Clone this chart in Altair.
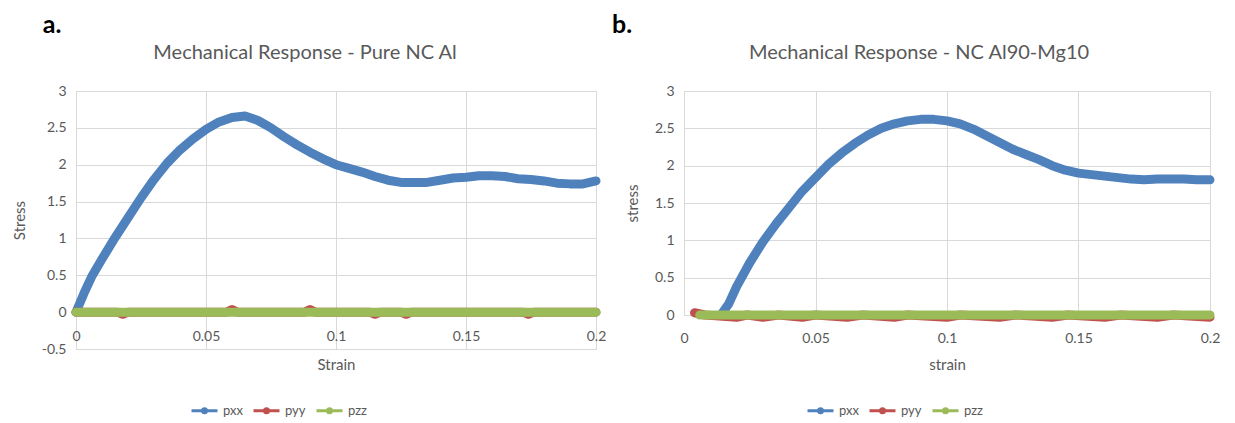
import altair as alt
import pandas as pd

FONT = "Lato"
GRAY = "#595959"
GRID = "#D9D9D9"

series_names = ["pxx", "pyy", "pzz"]
series_colors = ["#4F81BD", "#C0504D", "#9BBB59"]

# ---------- Panel a: Pure NC Al ----------
a_title = "Mechanical Response - Pure NC Al"
a_strain = [0.0, 0.003, 0.006, 0.01, 0.015, 0.02, 0.025, 0.03, 0.035, 0.04,
            0.045, 0.05, 0.055, 0.06, 0.065, 0.07, 0.075, 0.08, 0.085, 0.09,
            0.095, 0.1, 0.105, 0.11, 0.115, 0.12, 0.125, 0.13, 0.135, 0.14,
            0.145, 0.15, 0.155, 0.16, 0.165, 0.17, 0.175, 0.18, 0.185, 0.19,
            0.195, 0.2]
a_pxx = [0.0, 0.25, 0.48, 0.72, 1.01, 1.28, 1.55, 1.8, 2.02, 2.2,
         2.35, 2.48, 2.58, 2.64, 2.66, 2.6, 2.5, 2.38, 2.27, 2.17,
         2.08, 2.0, 1.95, 1.9, 1.84, 1.79, 1.76, 1.76, 1.76, 1.79,
         1.82, 1.83, 1.85, 1.85, 1.84, 1.81, 1.8, 1.78, 1.75, 1.74,
         1.74, 1.78]
a_pyy_strain = [0.0, 0.016, 0.018, 0.02, 0.058, 0.06, 0.062, 0.088, 0.09, 0.092,
                0.113, 0.115, 0.117, 0.125, 0.127, 0.129, 0.172, 0.174, 0.176, 0.2]
a_pyy = [0.0, 0.0, -0.03, 0.0, 0.0, 0.035, 0.0, 0.0, 0.035, 0.0,
         0.0, -0.03, 0.0, 0.0, -0.03, 0.0, 0.0, -0.03, 0.0, 0.0]
a_pzz_strain = [0.0, 0.05, 0.1, 0.15, 0.2]
a_pzz = [0.0, 0.0, 0.0, 0.0, 0.0]

# ---------- Panel b: NC Al90-Mg10 ----------
b_title = "Mechanical Response - NC Al90-Mg10"
b_strain = [0.014, 0.017, 0.02, 0.025, 0.03, 0.035, 0.04, 0.045, 0.05, 0.055,
            0.06, 0.065, 0.07, 0.075, 0.08, 0.085, 0.09, 0.095, 0.1, 0.105,
            0.11, 0.115, 0.12, 0.125, 0.13, 0.135, 0.14, 0.145, 0.15, 0.155,
            0.16, 0.165, 0.17, 0.175, 0.18, 0.185, 0.19, 0.195, 0.2]
b_pxx = [0.0, 0.15, 0.38, 0.7, 0.98, 1.22, 1.44, 1.66, 1.84, 2.02,
         2.17, 2.3, 2.41, 2.5, 2.56, 2.6, 2.62, 2.62, 2.6, 2.56,
         2.49, 2.4, 2.31, 2.22, 2.15, 2.08, 2.0, 1.94, 1.9, 1.88,
         1.86, 1.84, 1.82, 1.81, 1.82, 1.82, 1.82, 1.81, 1.81]
b_pyy_strain = [0.004, 0.008, 0.02, 0.024, 0.03, 0.036, 0.045, 0.05, 0.062, 0.068,
                0.08, 0.085, 0.1, 0.105, 0.12, 0.126, 0.14, 0.146, 0.16, 0.166,
                0.18, 0.186, 0.2]
b_pyy = [0.03, 0.0, -0.03, 0.0, -0.03, 0.0, -0.03, 0.0, -0.03, 0.0,
         -0.03, 0.0, -0.03, 0.0, -0.03, 0.0, -0.03, 0.0, -0.03, 0.0,
         -0.03, 0.0, -0.03]
b_pzz_strain = [0.006, 0.05, 0.1, 0.15, 0.2]
b_pzz = [0.0, 0.0, 0.0, 0.0, 0.0]

x_ticks = [0, 0.05, 0.1, 0.15, 0.2]
a_y_ticks = [-0.5, 0, 0.5, 1, 1.5, 2, 2.5, 3]
b_y_ticks = [0, 0.5, 1, 1.5, 2, 2.5, 3]

LEGEND_PATH = "M-2.6,0L2.6,0M-0.4,0A0.4,0.4,0,1,1,0.4,0A0.4,0.4,0,1,1,-0.4,0"


def frame(strain, values, name):
    return pd.DataFrame({"strain": strain, "stress": values, "series": name})


def panel(letter, title, data, y_domain, y_ticks, x_title, y_title,
          width, height, x_offset, x_label_pad, x_title_pad, title_x, letter_dx, legend_x):
    y_lab = "datum.value < 0 ? '-' + format(-datum.value, '~g') : format(datum.value, '~g')"
    x_axis = alt.Axis(values=x_ticks, format="~g", grid=True, gridColor=GRID, domain=False,
                      ticks=False, labelFont=FONT, labelFontSize=14, labelColor=GRAY,
                      labelPadding=x_label_pad, title=x_title, titleFont=FONT, titleFontSize=15,
                      titleColor=GRAY, titleFontWeight="normal", titlePadding=x_title_pad,
                      offset=x_offset, labelFlush=False)
    y_axis = alt.Axis(values=y_ticks, labelExpr=y_lab, grid=True, gridColor=GRID, domain=False,
                      ticks=False, labelFont=FONT, labelFontSize=14, labelColor=GRAY,
                      labelPadding=10, title=y_title, titleFont=FONT, titleFontSize=15,
                      titleColor=GRAY, titleFontWeight="normal", titlePadding=14)
    legend = alt.Legend(orient="none", legendX=legend_x, legendY=313, direction="horizontal",
                        title=None, symbolType=LEGEND_PATH, symbolSize=100, symbolStrokeWidth=3,
                        labelFont=FONT, labelFontSize=13, labelColor=GRAY, labelOffset=12,
                        columnPadding=4)
    color = alt.Color("series:N", scale=alt.Scale(domain=series_names, range=series_colors),
                      legend=legend)
    base = alt.Chart(data)
    layers = []
    for s in series_names:
        layers.append(
            base.transform_filter(alt.datum.series == s)
            .mark_line(strokeWidth=9, strokeCap="round", strokeJoin="round")
            .encode(
                x=alt.X("strain:Q", scale=alt.Scale(domain=[0, 0.2], nice=False), axis=x_axis),
                y=alt.Y("stress:Q", scale=alt.Scale(domain=y_domain, nice=False), axis=y_axis),
                color=color,
                order=alt.Order("strain:Q"),
            )
        )
    texts = pd.DataFrame({"t": [letter, title]})
    lab = alt.Chart(texts).transform_filter(alt.datum.t == letter).mark_text(
        font=FONT, fontSize=25, fontWeight="bold", color="#000000", align="center",
        baseline="middle"
    ).encode(x=alt.value(letter_dx), y=alt.value(-66), text="t:N")
    ttl = alt.Chart(texts).transform_filter(alt.datum.t == title).mark_text(
        font=FONT, fontSize=20, color=GRAY, align="center", baseline="middle"
    ).encode(x=alt.value(title_x), y=alt.value(-38), text="t:N")
    layers.append(lab)
    layers.append(ttl)
    return alt.layer(*layers).properties(width=width, height=height)


data_a = pd.concat([frame(a_strain, a_pxx, "pxx"), frame(a_pyy_strain, a_pyy, "pyy"),
                    frame(a_pzz_strain, a_pzz, "pzz")], ignore_index=True)
data_b = pd.concat([frame(b_strain, b_pxx, "pxx"), frame(b_pyy_strain, b_pyy, "pyy"),
                    frame(b_pzz_strain, b_pzz, "pzz")], ignore_index=True)

chart_a = panel("a.", a_title, data_a, [-0.5, 3], a_y_ticks, "Strain", "Stress",
                520, 258, -37, 17, 14, 229, -24, 122)
chart_b = panel("b.", b_title, data_b, [0, 3], b_y_ticks, "strain", "stress",
                526, 224, 0, 16, 12, 235, -62, 130)

chart = alt.hconcat(chart_a, chart_b, spacing=4).resolve_scale(
    color="independent").resolve_legend(color="independent").properties(
    padding={"left": 3, "top": 4, "right": 0, "bottom": 0}
).configure_view(stroke=GRID)

chart.save("out.html", embed_options={"renderer": "svg", "actions": False})
